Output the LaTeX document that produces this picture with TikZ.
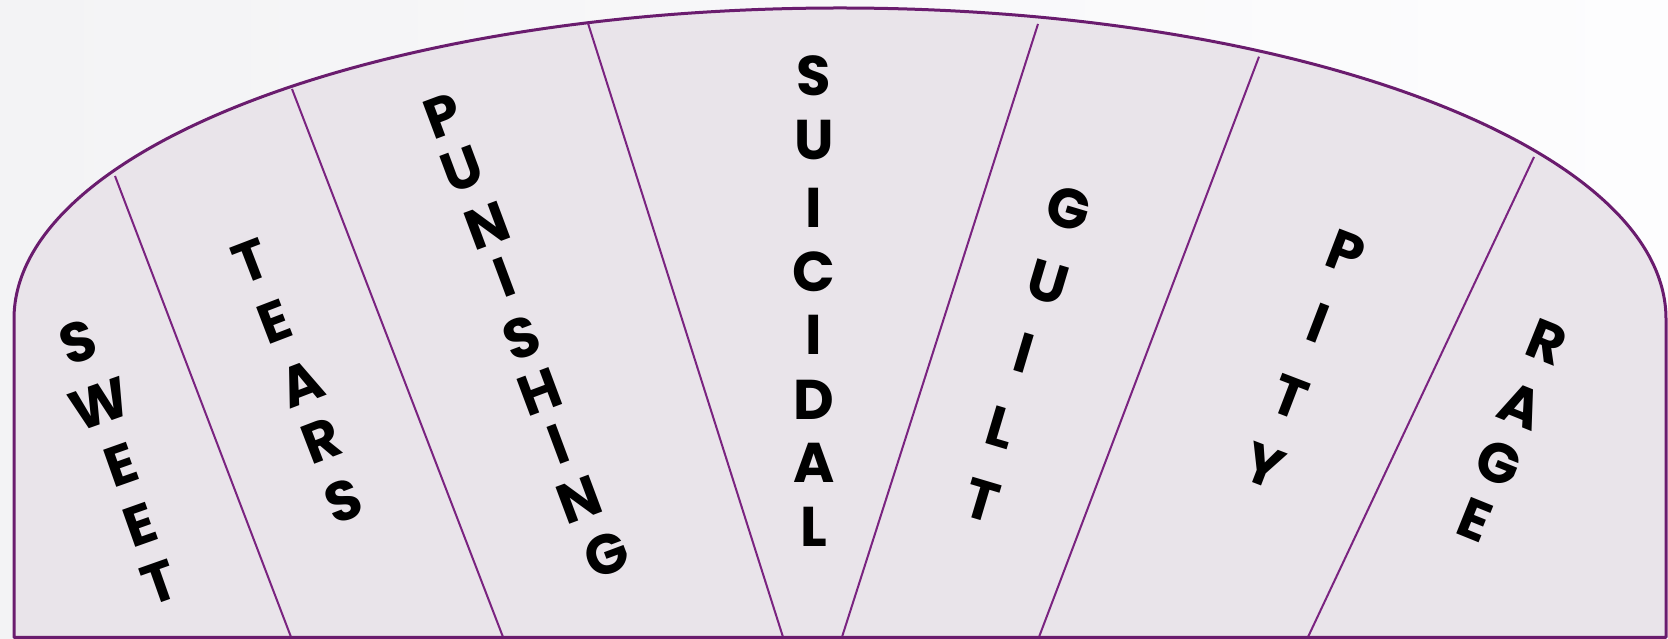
\documentclass[tikz,border=0pt]{standalone}
\usepackage{fontspec}
\newfontfamily\lfont{Poppins}
\definecolor{bgl}{HTML}{F3F3F5}
\definecolor{bgr}{HTML}{FDFDFE}
\definecolor{fanfill}{HTML}{E9E4EA}
\definecolor{fanedge}{HTML}{6A1C6E}
\definecolor{divline}{HTML}{7A2380}
\tikzset{
  lt/.style={inner sep=0pt, outer sep=0pt, font=\lfont\bfseries\fontsize{56}{64}\selectfont, text=black},
  fanborder/.style={draw=fanedge, line width=3pt, fill=fanfill, line join=round},
  divider/.style={draw=divline, line width=2pt}
}
\newcommand{\wordletters}[3]{%
  \foreach \px/\py/\ch [count=\i] in {#3}
    \node[lt, rotate=#2, name=#1\i] at (\px,{639-\py}) {\ch};%
}
\begin{document}
\begin{tikzpicture}[x=1pt,y=1pt]
\useasboundingbox (0,0) rectangle (1668,639);
\shade[left color=bgl, right color=bgr] (0,0) rectangle (1668,639);
% fan shape
\draw[fanborder] (14,1.7) -- (14,320) arc[start angle=180, end angle=0, x radius=826, y radius=311] -- (1666,1.7) -- cycle;
% divider end points
\coordinate (d1t) at (115,463); \coordinate (d1b) at (291,2);
\coordinate (d2t) at (292,550); \coordinate (d2b) at (503,2);
\coordinate (d3t) at (588,615.7); \coordinate (d3b) at (783,2);
\coordinate (d4t) at (1038,615); \coordinate (d4b) at (842,2);
\coordinate (d5t) at (1259,582.3); \coordinate (d5b) at (1039,2);
\coordinate (d6t) at (1534,482); \coordinate (d6b) at (1308,2);
\foreach \k in {1,...,6} \draw[divider] (d\k t) -- (d\k b);
% redraw bottom border on top
\draw[draw=fanedge, line width=3pt] (14,1.7) -- (1666,1.7);
% words
\wordletters{sweet}{19.5}{78/342/S, 99.5/404/W, 121/465/E, 140/525/E, 160/582/T}
\wordletters{tears}{21}{251/261/T, 275/322/E, 302/384/A, 321.5/440.5/R, 343/501/S}
\wordletters{punish}{20.5}{442.5/116/P, 462/169/U, 487/226/N, 504.5/277/I, 521.5/337.5/S, 540/392/H, 558/444/I, 579/500/N, 606.5/554.5/G}
\wordletters{suicidal}{0}{814/75.5/S, 814/139.6/U, 814/207.8/I, 814/271.7/C, 814/334.5/I, 814/400/D, 814/463/A, 814/526.5/L}
\wordletters{guilt}{-16.6}{1069/209/G, 1048/282/U, 1024/353/I, 1000.5/427/L, 982/500/T}
\wordletters{pity}{-21}{1346/252/P, 1318/323/I, 1290/397/T, 1264/466/Y}
\wordletters{rage}{-22}{1547/342/R, 1521/406/A, 1499/463/G, 1474.5/519.5/E}
\end{tikzpicture}
\end{document}
